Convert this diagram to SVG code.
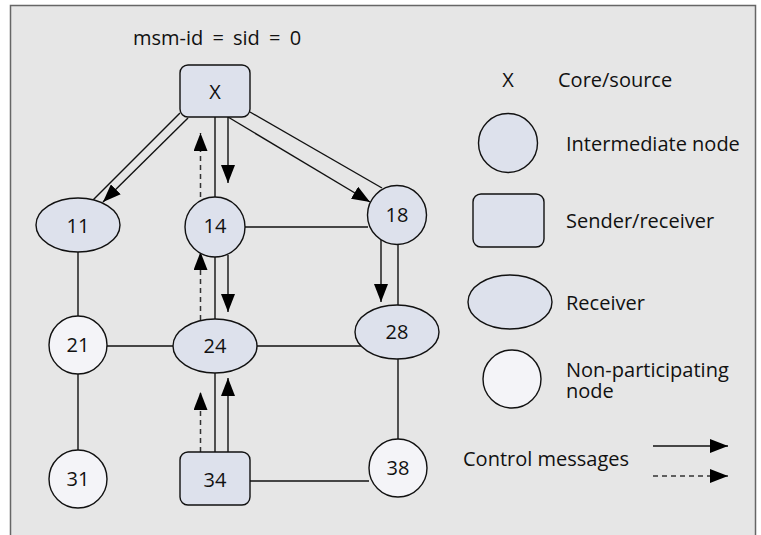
<svg xmlns="http://www.w3.org/2000/svg" width="761" height="535" viewBox="0 0 761 535">
  <defs>
    <marker id="arrow" viewBox="0 0 18 14" refX="18" refY="7" markerWidth="18" markerHeight="14" markerUnits="userSpaceOnUse" orient="auto">
      <path d="M0,0 L18,7 L0,14 Z" fill="#000"/>
    </marker>
  </defs>
  <style>
    text { font-family: "Open Sans", "Noto Sans", "Liberation Sans", sans-serif; font-size: 20px; fill: #111; }
    .lbl { text-anchor: middle; }
    .node { fill: #dde1ec; stroke: #111; stroke-width: 1.4; }
    .plain { fill: #f4f4f8; stroke: #111; stroke-width: 1.4; }
    .edge { stroke: #111; stroke-width: 1.4; fill: none; }
    .msg { stroke: #111; stroke-width: 1.4; fill: none; marker-end: url(#arrow); }
    .dash { stroke: #333; stroke-width: 1.5; fill: none; stroke-dasharray: 5 4; marker-end: url(#arrow); }
  </style>

  <!-- panel -->
  <rect x="10.5" y="5.5" width="745" height="545" fill="#e6e6e6" stroke="#666" stroke-width="1.5"/>
  <text class="lbl" x="217" y="45" word-spacing="4">msm-id = sid = 0</text>

  <!-- links and control messages -->
  <g id="connectors">
    <line class="edge" x1="180" y1="113" x2="93" y2="200"/>
    <line class="msg" x1="188" y1="118" x2="103" y2="202"/>
    <line class="edge" x1="215" y1="117" x2="215" y2="197"/>
    <line class="msg" x1="228" y1="117" x2="228" y2="183"/>
    <line class="dash" x1="200.5" y1="197" x2="200.5" y2="133"/>
    <line class="edge" x1="250" y1="112" x2="382" y2="188"/>
    <line class="msg" x1="228" y1="117" x2="370" y2="202"/>
    <line class="edge" x1="245" y1="227" x2="368" y2="227"/>
    <line class="edge" x1="215" y1="257" x2="215" y2="319"/>
    <line class="msg" x1="228" y1="255" x2="228" y2="312"/>
    <line class="dash" x1="200.5" y1="320" x2="200.5" y2="252"/>
    <line class="msg" x1="381" y1="240" x2="381" y2="302"/>
    <line class="edge" x1="398" y1="244" x2="398" y2="305"/>
    <line class="edge" x1="78" y1="252" x2="78" y2="316"/>
    <line class="edge" x1="107" y1="346" x2="173" y2="346"/>
    <line class="edge" x1="257" y1="346" x2="364" y2="346"/>
    <line class="edge" x1="78" y1="374" x2="78" y2="450"/>
    <line class="edge" x1="215" y1="373" x2="215" y2="452"/>
    <line class="msg" x1="228" y1="452" x2="228" y2="378"/>
    <line class="dash" x1="200.5" y1="452" x2="200.5" y2="392"/>
    <line class="edge" x1="250" y1="481" x2="369" y2="481"/>
    <line class="edge" x1="398" y1="359" x2="398" y2="439"/>
    <line class="msg" x1="653" y1="446" x2="728" y2="446"/>
    <line class="dash" x1="653" y1="476" x2="728" y2="476"/>
  </g>

  <g id="node-X">
    <rect class="node" x="180" y="65" width="70" height="52" rx="8"/>
    <text class="lbl" x="215" y="99" font-size="18">X</text>
  </g>
  <g id="node-11">
    <ellipse class="node" cx="78" cy="225" rx="42" ry="27"/>
    <text class="lbl" x="78" y="233">11</text>
  </g>
  <g id="node-14">
    <circle class="node" cx="215" cy="227" r="30"/>
    <text class="lbl" x="215" y="233">14</text>
  </g>
  <g id="node-18">
    <circle class="node" cx="397" cy="215" r="29.5"/>
    <text class="lbl" x="397" y="222">18</text>
  </g>
  <g id="node-21">
    <circle class="plain" cx="78" cy="345" r="29"/>
    <text class="lbl" x="78" y="352">21</text>
  </g>
  <g id="node-24">
    <ellipse class="node" cx="215" cy="346" rx="42" ry="27"/>
    <text class="lbl" x="215" y="353">24</text>
  </g>
  <g id="node-28">
    <ellipse class="node" cx="397" cy="332" rx="42" ry="27"/>
    <text class="lbl" x="397" y="339">28</text>
  </g>
  <g id="node-31">
    <circle class="plain" cx="78" cy="479" r="29"/>
    <text class="lbl" x="78" y="486">31</text>
  </g>
  <g id="node-34">
    <rect class="node" x="180" y="452" width="70" height="53" rx="8"/>
    <text class="lbl" x="215" y="487">34</text>
  </g>
  <g id="node-38">
    <circle class="plain" cx="398" cy="468" r="29"/>
    <text class="lbl" x="398" y="475">38</text>
  </g>

  <!-- legend -->
  <g id="legend">
    <text class="lbl" x="508" y="87">X</text>
    <text x="558" y="87">Core/source</text>
    <circle class="node" cx="508" cy="143" r="29.5"/>
    <text x="566" y="151">Intermediate node</text>
    <rect class="node" x="473" y="194" width="71" height="53" rx="8"/>
    <text x="566" y="228">Sender/receiver</text>
    <ellipse class="node" cx="510" cy="302" rx="42" ry="27"/>
    <text x="566" y="310">Receiver</text>
    <circle class="plain" cx="512" cy="379" r="29"/>
    <text x="566" y="377">Non-participating<tspan x="566" dy="21">node</tspan></text>
    <text x="463" y="466">Control messages</text>
  </g>
</svg>
